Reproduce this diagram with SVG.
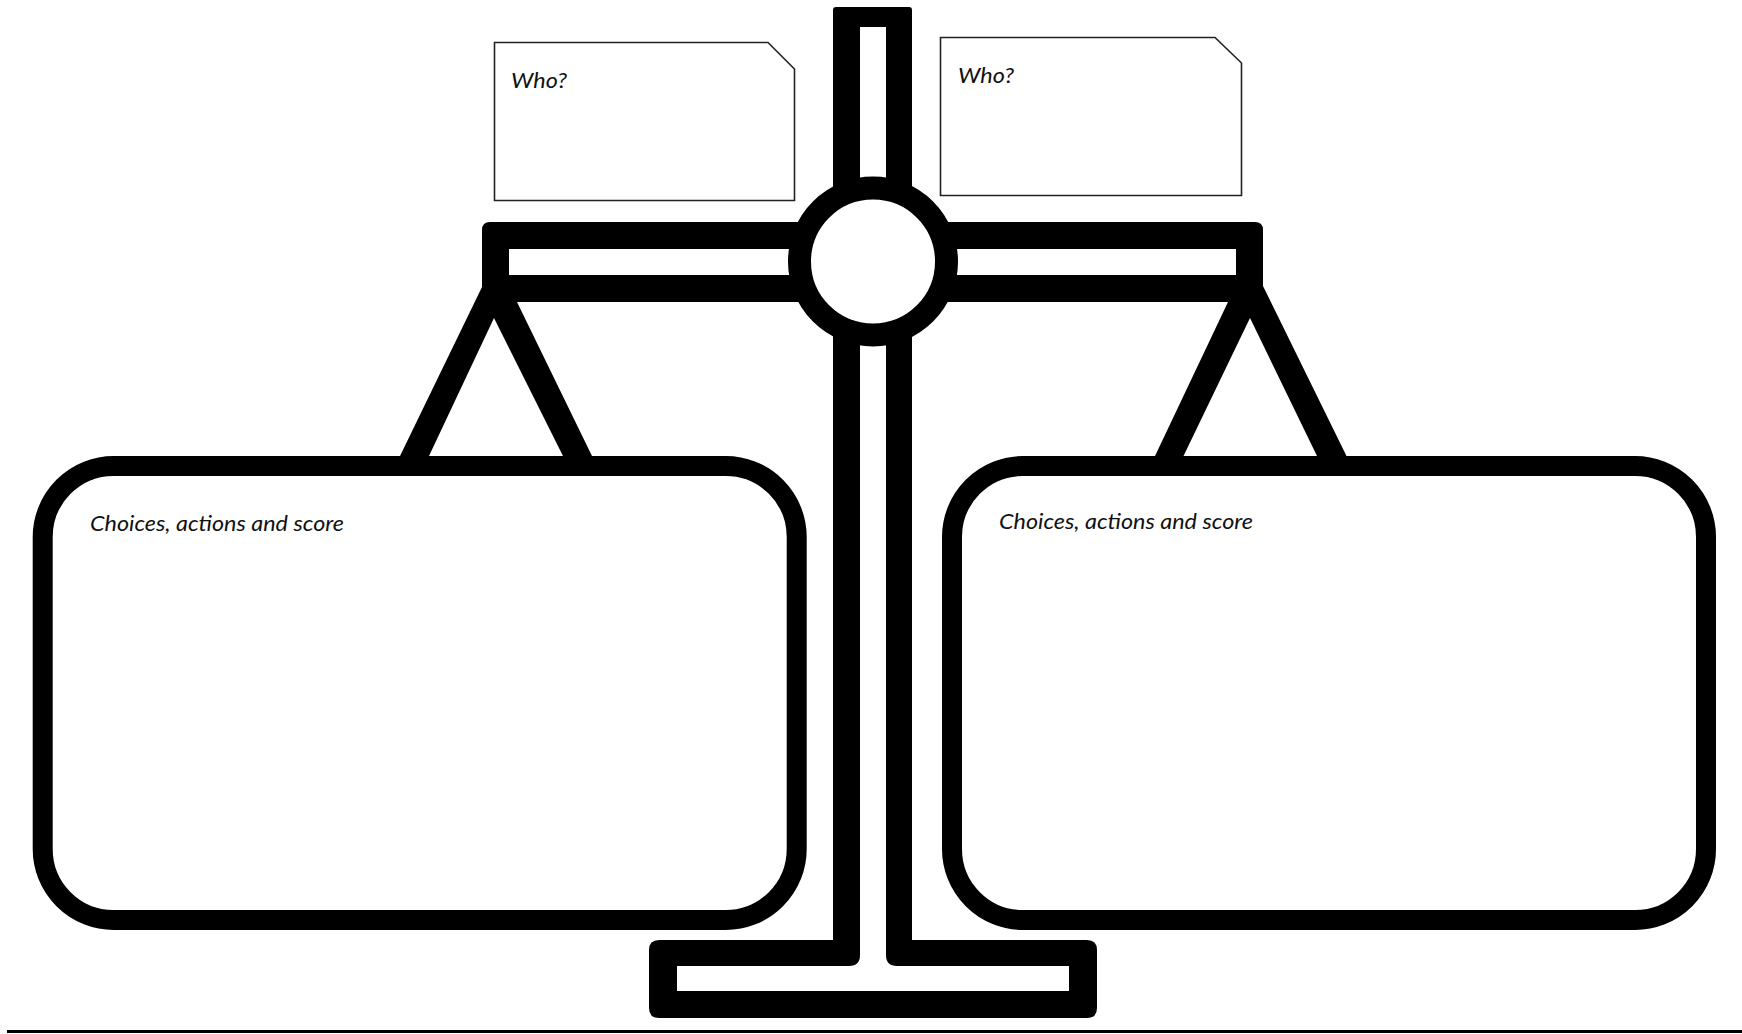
<svg xmlns="http://www.w3.org/2000/svg" width="1742" height="1034" viewBox="0 0 1742 1034">
  <style>
    .ink { fill: #000; }
    .pan { fill: #fff; stroke: #000; stroke-width: 20; }
    .note { fill: #fff; stroke: #222; stroke-width: 1.6; }
    .label { font-family: "Lato", "Open Sans", sans-serif; font-style: italic; font-size: 22px; fill: #111; }
  </style>
  <rect width="1742" height="1034" fill="#fff"/>
  <g id="scale">
    <path id="pole-base" class="ink" fill-rule="evenodd" d="M836,7 H909 Q912,7 912,10 V940 H1087 Q1097,940 1097,950 V1008 Q1097,1018 1087,1018 H659 Q649,1018 649,1008 V950 Q649,940 659,940 H833 V10 Q833,7 836,7 Z M860,27 V955 Q860,966 849,966 H677 V991 H1069 V966 H897 Q886,966 886,955 V27 Z"/>
    <path id="beam" class="ink" fill-rule="evenodd" d="M490,222 H1255 Q1263,222 1263,230 V302 H482 V230 Q482,222 490,222 Z M509,249 V275 H1236 V249 Z"/>
    <polygon id="hanger-left" class="ink" points="482,287 400,456 429,456 494,318 563,456 592,456 517,302 482,302"/>
    <polygon id="hanger-right" class="ink" points="1263,286 1346.500,456 1317,456 1250,318 1183.500,456 1155,456 1228,302 1263,302"/>
    <circle id="pivot" cx="873" cy="261.500" r="73.500" fill="#fff" stroke="#000" stroke-width="23"/>
  </g>
  <g id="pan-left">
    <rect class="pan" x="42.700" y="466" width="754" height="454" rx="71"/>
    <text class="label" x="90" y="531" textLength="254" lengthAdjust="spacingAndGlyphs">Choices, actions and score</text>
  </g>
  <g id="pan-right">
    <rect class="pan" x="952" y="466" width="754" height="454" rx="71"/>
    <text class="label" x="999" y="529" textLength="254" lengthAdjust="spacingAndGlyphs">Choices, actions and score</text>
  </g>
  <g id="note-left">
    <polygon class="note" points="494.500,42.500 768,42.500 794.500,69 794.500,200.500 494.500,200.500"/>
    <text class="label" x="511" y="88" textLength="56" lengthAdjust="spacingAndGlyphs">Who?</text>
  </g>
  <g id="note-right">
    <polygon class="note" points="940.500,37.500 1215,37.500 1241.500,63 1241.500,195.500 940.500,195.500"/>
    <text class="label" x="958" y="83" textLength="56" lengthAdjust="spacingAndGlyphs">Who?</text>
  </g>
  <rect id="rule" class="ink" x="7" y="1030" width="1735" height="3"/>
</svg>
